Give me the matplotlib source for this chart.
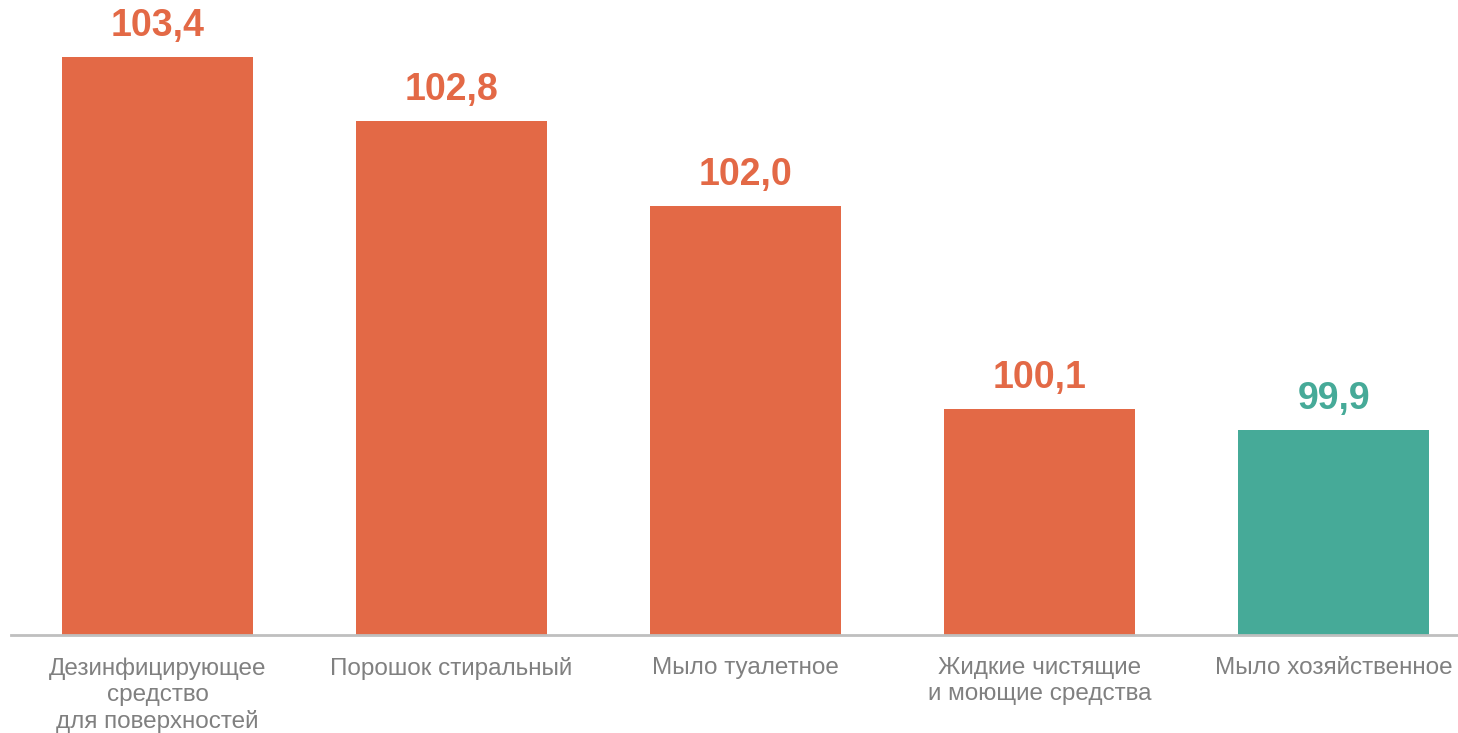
import matplotlib.pyplot as plt

plt.rcParams['font.family'] = ['Liberation Sans', 'DejaVu Sans']

categories = ['Дезинфицирующее\nсредство\nдля поверхностей', 'Порошок стиральный',
              'Мыло туалетное', 'Жидкие чистящие\nи моющие средства', 'Мыло хозяйственное']
values = [103.4, 102.8, 102.0, 100.1, 99.9]
labels = ['103,4', '102,8', '102,0', '100,1', '99,9']
colors = ['#E36946', '#E36946', '#E36946', '#E36946', '#46AA98']

fig = plt.figure(figsize=(14.58, 7.33), dpi=100)
ax = fig.add_axes([10.5 / 1458, 98 / 733, 1 - 10.5 / 1458, 1 - 98 / 733])

base = 97.98
x = range(len(values))
ax.bar(x, [v - base for v in values], bottom=base, width=0.65, color=colors)

for i, (v, lab, c) in enumerate(zip(values, labels, colors)):
    ax.annotate(lab, (i, v), xytext=(0, 15), textcoords='offset points',
                ha='center', va='baseline', fontsize=27, fontweight='bold', color=c)

ax.set_xlim(-0.5, 4.423)
ax.set_ylim(base, 103.93)
ax.set_xticks(list(x))
ax.set_xticklabels(categories, fontsize=17.5, color='#808080', linespacing=1.23)
ax.tick_params(axis='x', length=0, pad=16)
ax.set_yticks([])
for s in ['top', 'right', 'left']:
    ax.spines[s].set_visible(False)
ax.spines['bottom'].set_color('#BFBFBF')
ax.spines['bottom'].set_linewidth(2)

fig.savefig('out.png', dpi=100)
